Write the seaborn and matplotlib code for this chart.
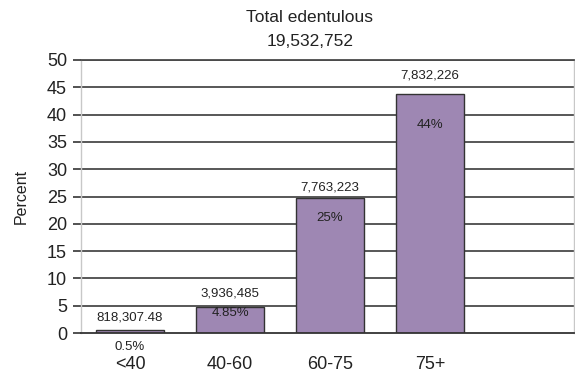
import matplotlib
matplotlib.use("Agg")
import matplotlib.pyplot as plt
import seaborn as sns
import pandas as pd

categories = ["<40", "40-60", "60-75", "75+"]
percent = [0.55, 4.85, 24.8, 43.8]
count_labels = ["818,307.48", "3,936,485", "7,763,223", "7,832,226"]
pct_labels = ["0.5%", "4.85%", "25%", "44%"]
title_lines = ["Total edentulous", "19,532,752"]
yticks = [0, 5, 10, 15, 20, 25, 30, 35, 40, 45, 50]

sns.set_style("white")
plt.rcParams["font.family"] = ["Liberation Sans", "DejaVu Sans"]

df = pd.DataFrame({"cat": categories, "pct": percent})

fig = plt.figure(figsize=(5.75, 3.73), dpi=100)
ax = fig.add_axes([81/575, 1-333/373, (574-81)/575, (333-60)/373])

ax.set_ylim(0, 50)
ax.set_yticks(yticks)
for v in yticks[1:]:
    ax.axhline(v, color="#4a4a4a", lw=1.3, zorder=0)

sns.barplot(data=df, x="cat", y="pct", color="#9E87B3", saturation=1,
            width=0.68, edgecolor="#333333", linewidth=1.0, ax=ax, zorder=2)
ax.set_xlim(-0.49, 4.44)

above_off_px = [12, 13, 10, 18]
inside_off_px = [-17, -6, -20, -31]
for i, (v, cl, pl) in enumerate(zip(percent, count_labels, pct_labels)):
    ax.annotate(cl, (i, v), xytext=(0, above_off_px[i]*0.72), textcoords="offset points",
                ha="center", va="center", fontsize=9.5, color="#222222", zorder=5)
    ax.annotate(pl, (i, v), xytext=(0, inside_off_px[i]*0.72), textcoords="offset points",
                ha="center", va="center", fontsize=9.5, color="#222222", zorder=5)

for s in ["left", "right"]:
    ax.spines[s].set_color("#c8c8c8")
    ax.spines[s].set_linewidth(1.0)
ax.spines["top"].set_color("#4a4a4a")
ax.spines["top"].set_linewidth(1.3)
ax.spines["bottom"].set_color("#333333")
ax.spines["bottom"].set_linewidth(1.3)

ax.tick_params(axis="y", which="both", left=True, length=6, width=1.2, color="#333333",
               labelsize=13, pad=4, labelcolor="#222222")
ax.tick_params(axis="x", bottom=False, labelsize=13, pad=13, labelcolor="#222222")
ax.set_xlabel("")
ax.set_ylabel("Percent", fontsize=11.5, color="#222222")
ax.yaxis.set_label_coords((29-81)/493, 0.5)

fig.text(310/575, 1-17/373, title_lines[0], ha="center", va="center", fontsize=12.5, color="#222222")
fig.text(310/575, 1-42/373, title_lines[1], ha="center", va="center", fontsize=12.5, color="#222222")

fig.savefig("out.png", dpi=100)
